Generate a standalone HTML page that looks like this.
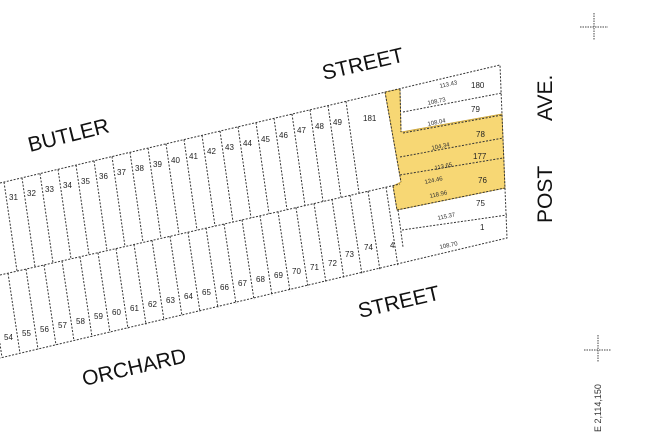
<!DOCTYPE html>
<html><head><style>
html,body{margin:0;padding:0;background:#fff;}
svg{display:block;font-family:"Liberation Sans",sans-serif;}
.l{stroke:#333;stroke-width:1;stroke-dasharray:2,1.5;fill:none}
.n{font-size:8px;fill:#222}
.d{font-size:6px;fill:#333}
.s{font-size:21px;fill:#111}
</style></head><body>
<svg width="649" height="436" viewBox="0 0 649 436">
<polygon points="385,92 400,89 401,132 502,114 505,188 397,210 393,186 401,182" fill="#f7d774" stroke="#c9a030" stroke-width="0.8"/>
<polyline class="l" points="0,183 500,65 507,238 0,358"/>
<polyline class="l" points="0,275 400,184"/>
<g class="l">
<path d="M4,182.1L17,271.1M22,177.8L35,267M40,173.6L53,262.9M58,169.3L71,258.8M76,165.1L89,254.7M94,160.8L107,250.6M112,156.6L125,246.5M130,152.3L143,242.4M148,148.1L161,238.3M166,143.8L179,234.2M184,139.6L197,230.1M202,135.3L215,226M220,131.1L233,221.9M238,126.8L251,217.8M256,122.6L269,213.7M274,118.3L287,209.6M292,114.1L305,205.5M310,109.8L323,201.4M328,105.6L341,197.3M346,101.3L359,193.1"/>
<path d="M-10,277.3L2,357.5M8,273.2L20,353.4M26,269.1L38,349.3M44,265L56,345.1M62,260.9L74,341M80,256.8L92,336.8M98,252.7L110,332.7M116,248.6L128,328.6M134,244.4L146,324.4M152,240.3L164,320.3M170,236.2L182,316.1M188,232.1L200,312M206,228L218,307.9M224,223.9L236,303.7M242,219.8L254,299.6M260,215.7L272,295.4M278,211.6L290,291.3M296,207.5L308,287.2M314,203.4L326,283M332,199.3L344,278.9M350,195.2L362,274.7M368,191.1L380,270.6M386,187L398,266.5"/>
<path d="M385,92L401,182M400,89L401,132M403,112L502,93M403,133L502,115M400,157L503,138M400,175L503,158M397,210L505,188M393,186L397,210M402,230L507,215M398,210L403,247"/>
</g>
<g class="n">
<text x="9" y="200">31</text><text x="27" y="196">32</text><text x="45" y="192">33</text><text x="63" y="188">34</text><text x="81" y="184">35</text><text x="99" y="179">36</text><text x="117" y="175">37</text><text x="135" y="171">38</text><text x="153" y="167">39</text><text x="171" y="163">40</text><text x="189" y="159">41</text><text x="207" y="154">42</text><text x="225" y="150">43</text><text x="243" y="146">44</text><text x="261" y="142">45</text><text x="279" y="138">46</text><text x="297" y="133">47</text><text x="315" y="129">48</text><text x="333" y="125">49</text>
<text x="363" y="121">181</text>
<text x="4" y="340">54</text><text x="22" y="336">55</text><text x="40" y="332">56</text><text x="58" y="328">57</text><text x="76" y="324">58</text><text x="94" y="319">59</text><text x="112" y="315">60</text><text x="130" y="311">61</text><text x="148" y="307">62</text><text x="166" y="303">63</text><text x="184" y="299">64</text><text x="202" y="295">65</text><text x="220" y="290">66</text><text x="238" y="286">67</text><text x="256" y="282">68</text><text x="274" y="278">69</text><text x="292" y="274">70</text><text x="310" y="270">71</text><text x="328" y="266">72</text><text x="345" y="257">73</text><text x="364" y="250">74</text><text x="390" y="248">4</text>
<text x="471" y="88">180</text><text x="471" y="112">79</text><text x="476" y="137">78</text><text x="473" y="159">177</text><text x="478" y="183">76</text><text x="476" y="206">75</text><text x="480" y="230">1</text>
</g>
<g class="d">
<text x="440" y="88" transform="rotate(-12 440 88)">113.43</text>
<text x="428" y="105" transform="rotate(-12 428 105)">108.73</text>
<text x="428" y="126" transform="rotate(-12 428 126)">108.04</text>
<text x="432" y="150" transform="rotate(-12 432 150)">104.34</text>
<text x="435" y="170" transform="rotate(-12 435 170)">113.65</text>
<text x="425" y="184" transform="rotate(-12 425 184)">124.46</text>
<text x="430" y="198" transform="rotate(-12 430 198)">118.96</text>
<text x="438" y="220" transform="rotate(-12 438 220)">115.37</text>
<text x="440" y="249" transform="rotate(-12 440 249)">108.70</text>
</g>
<g class="s">
<text x="30" y="152" transform="rotate(-14 30 152)">BUTLER</text>
<text x="324" y="80" transform="rotate(-13 324 80)">STREET</text>
<text x="84" y="386" transform="rotate(-13 84 386)">ORCHARD</text>
<text x="360" y="318" transform="rotate(-13 360 318)">STREET</text>
<text x="552" y="223" transform="rotate(-90 552 223)">POST</text>
<text x="552" y="121" transform="rotate(-90 552 121)">AVE.</text>
</g>
<g stroke="#444" stroke-width="1" stroke-dasharray="1.5,1">
<path d="M580,27H608M594,13V40"/>
<path d="M584,350H611M598,335V362"/>
</g>
<text x="601" y="432" transform="rotate(-90 601 432)" style="font-size:9px;fill:#333">E 2,114,150</text>
</svg>
</body></html>
